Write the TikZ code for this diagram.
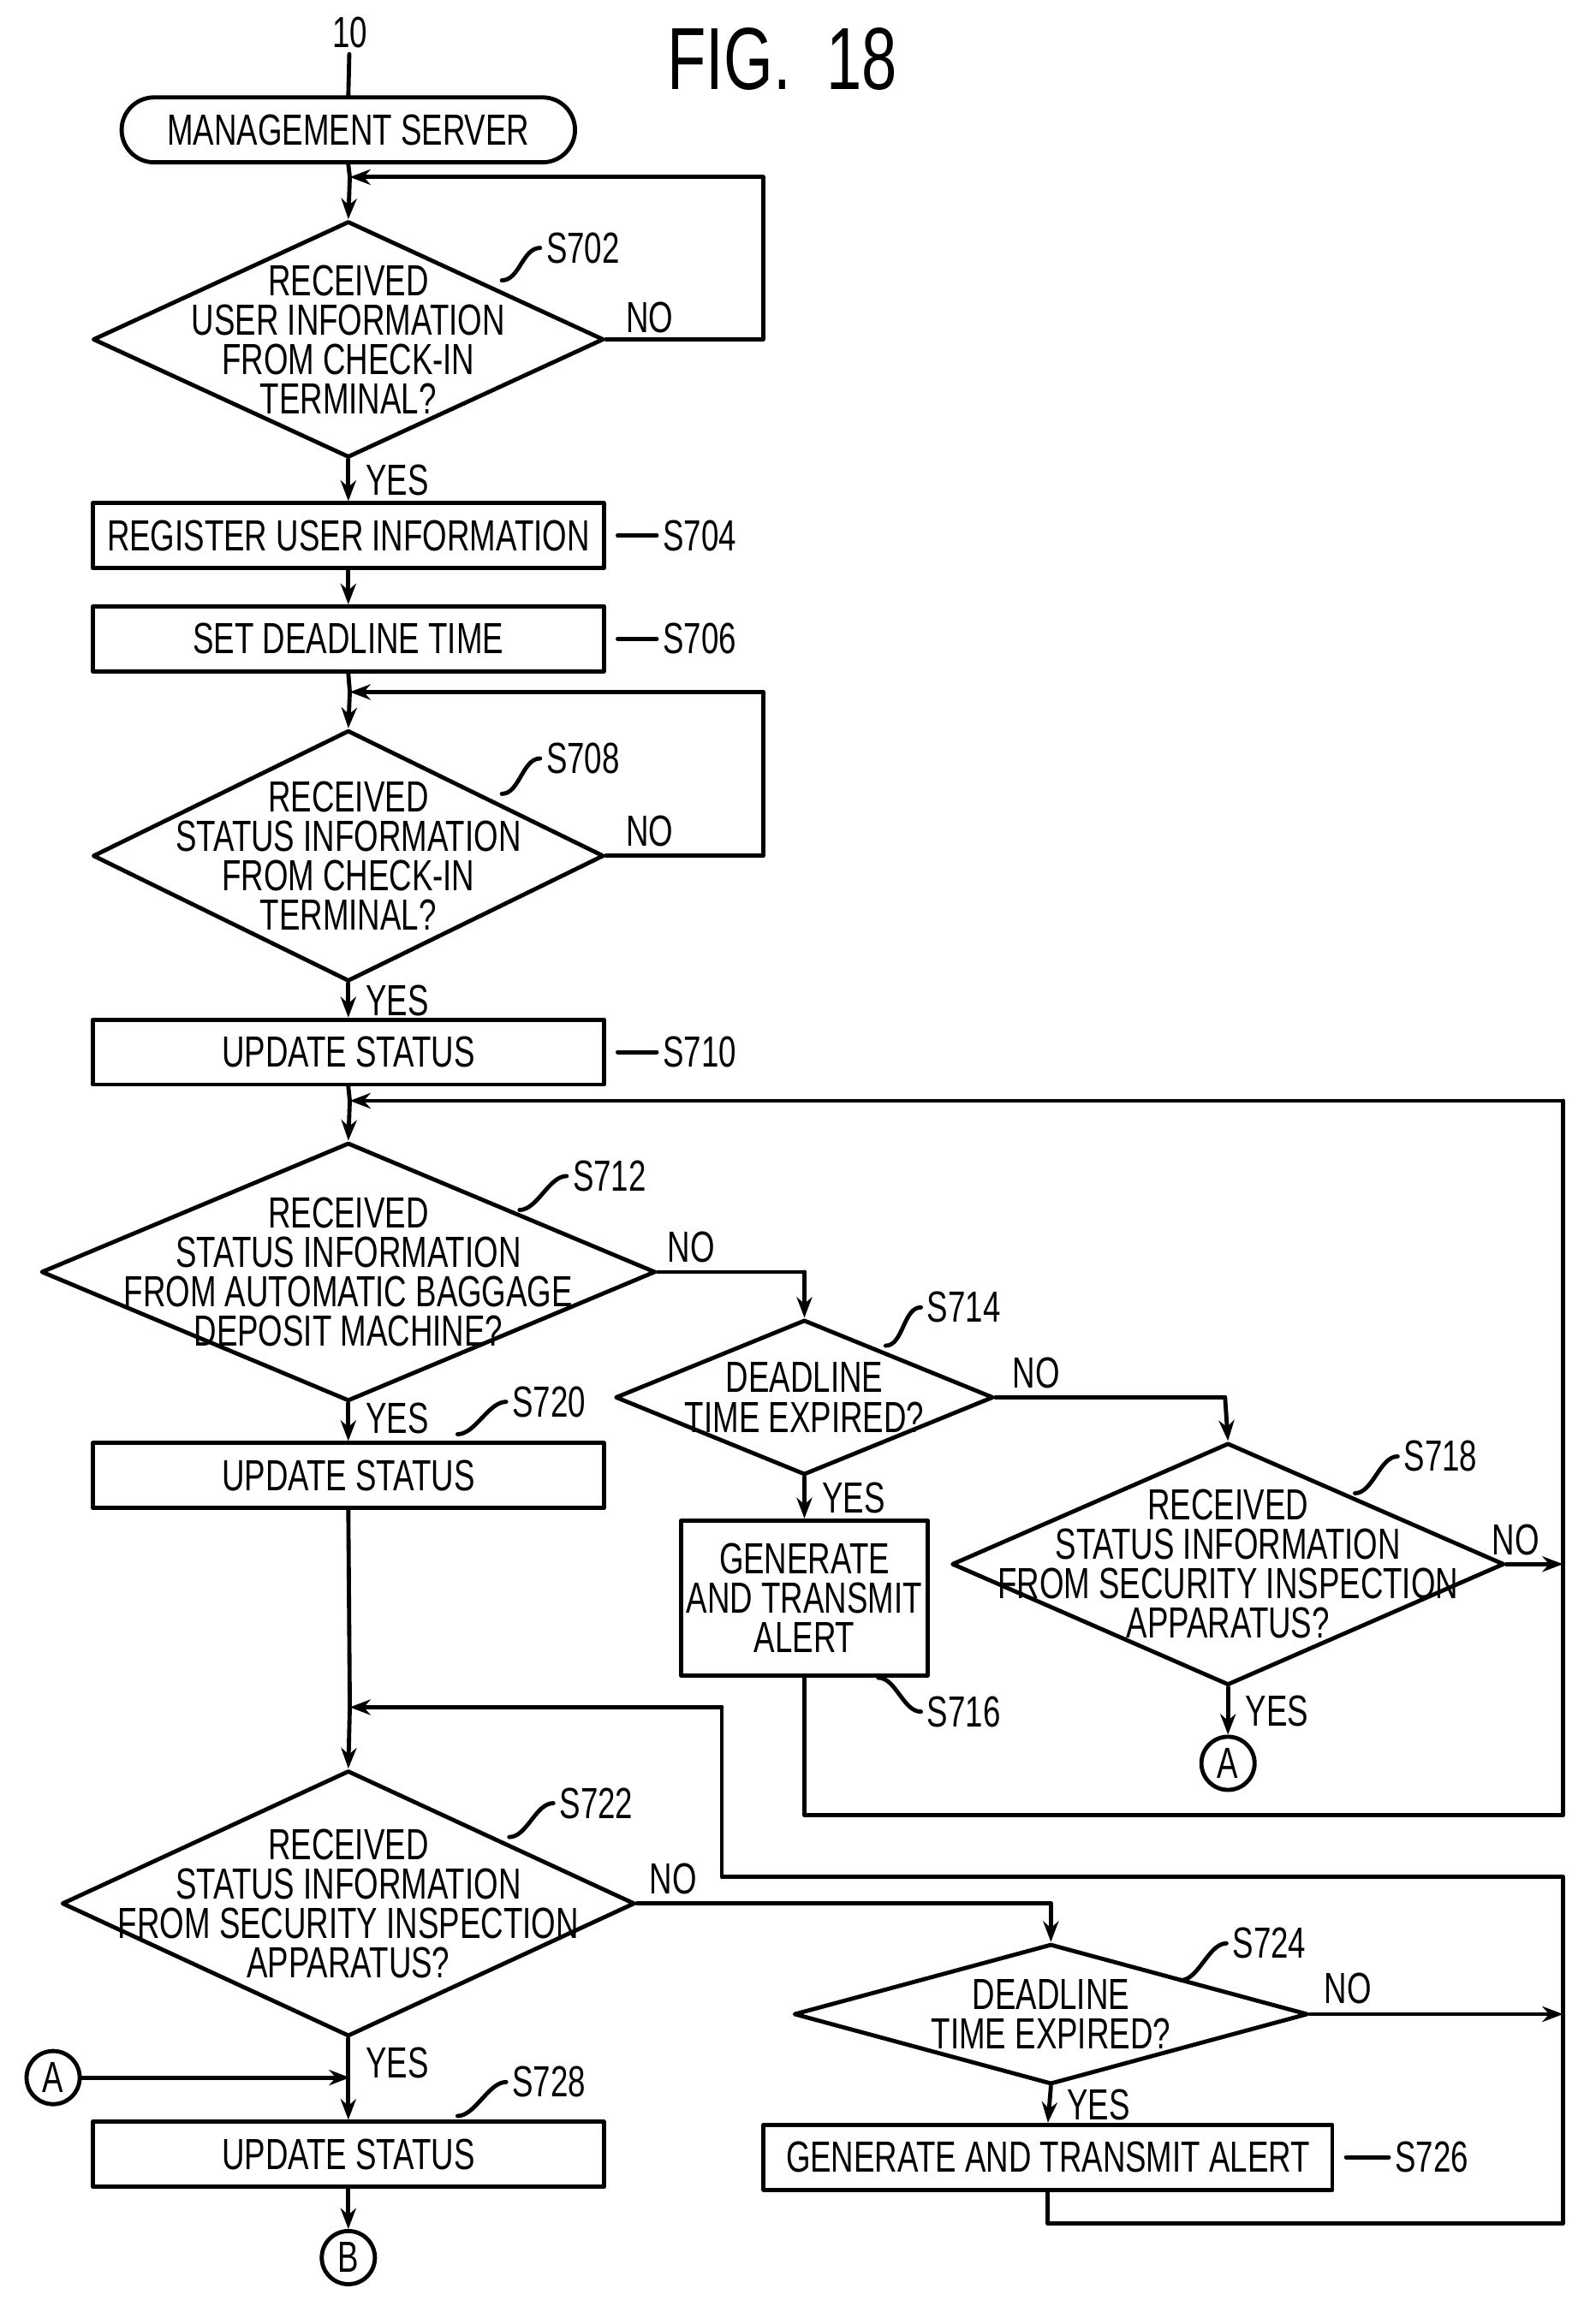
\documentclass[tikz,border=0pt]{standalone}
\usepackage{fontspec}
\setmainfont{Liberation Sans}[FakeStretch=0.72]
\usetikzlibrary{shapes.geometric,arrows.meta,positioning}
\tikzset{
  box/.style={draw,thick,minimum height=0.44cm,inner sep=0pt},
  dia/.style={draw,thick,diamond,inner sep=0pt,aspect=2},
  txt/.style={align=center,font=\fontsize{8.4}{7.6}\selectfont,inner sep=0pt},
  lbl/.style={font=\fontsize{8.4}{8}\selectfont,inner sep=1pt},
  con/.style={draw,circle,thick,minimum size=0.36cm,inner sep=0pt,font=\fontsize{8.4}{8}\selectfont},
  arr/.style={thick,-{Stealth[length=4pt,width=3pt]}},
  ln/.style={thick}
}
\begin{document}
\begin{tikzpicture}[x=0.01cm,y=-0.01cm,line cap=round,line join=round]
\useasboundingbox (0,0) rectangle (1077,1575);
\node[font=\fontsize{17}{17}\selectfont] (fig) at (530,40) {FIG.\ \ 18};
\node[lbl] (ten) at (237,22) {10};
\node[draw,thick,rounded corners=0.22cm,minimum width=3.07cm,minimum height=0.44cm,txt] (srv) at (236,88) {MANAGEMENT SERVER};
\draw[ln] (ten) -- (srv.north);

% S702
\node[dia,minimum width=3.46cm,minimum height=1.6cm] (d702) at (236,230) {};
\node[txt] at (d702) {RECEIVED\\USER INFORMATION\\FROM CHECK-IN\\TERMINAL?};
\coordinate (j702) at (237,120);
\draw[ln] (srv.south) -- (j702);
\draw[arr] (j702) -- (d702.north);
\draw[ln] (d702.east) -- (517,230) -- (517,120);
\draw[arr] (517,120) -- (j702);
\node[lbl,anchor=south west] at (420,230) {NO};
\node[lbl] (s702) at (395,168) {S702};
\draw[ln] (340,190) .. controls +(12,0) and +(-12,0) .. (s702.west);

\node[box,minimum width=3.46cm,txt] (b704) at (236,363) {REGISTER USER INFORMATION};
\draw[arr] (d702.south) -- node[lbl,right=2pt]{YES} (b704.north);
\node[lbl] (s704) at (474,363) {S704};
\draw[ln] (b704.east) ++(8,0) .. controls +(12,0) and +(-12,0) .. (s704.west);

\node[box,minimum width=3.46cm,txt] (b706) at (236,433) {SET DEADLINE TIME};
\draw[arr] (b704) -- (b706);
\node[lbl] (s706) at (474,433) {S706};
\draw[ln] (b706.east) ++(8,0) .. controls +(12,0) and +(-12,0) .. (s706.west);

% S708
\node[dia,minimum width=3.46cm,minimum height=1.7cm] (d708) at (236,580) {};
\node[txt] at (d708) {RECEIVED\\STATUS INFORMATION\\FROM CHECK-IN\\TERMINAL?};
\coordinate (j708) at (237,469);
\draw[ln] (b706.south) -- (j708);
\draw[arr] (j708) -- (d708.north);
\draw[ln] (d708.east) -- (517,580) -- (517,469);
\draw[arr] (517,469) -- (j708);
\node[lbl,anchor=south west] at (420,578) {NO};
\node[lbl] (s708) at (395,514) {S708};
\draw[ln] (340,538) .. controls +(12,0) and +(-12,0) .. (s708.west);

\node[box,minimum width=3.46cm,txt] (b710) at (236,713) {UPDATE STATUS};
\draw[arr] (d708.south) -- node[lbl,right=2pt]{YES} (b710.north);
\node[lbl] (s710) at (474,713) {S710};
\draw[ln] (b710.east) ++(8,0) .. controls +(12,0) and +(-12,0) .. (s710.west);

% S712
\node[dia,minimum width=4.16cm,minimum height=1.75cm] (d712) at (236,862) {};
\node[txt] at (d712) {RECEIVED\\STATUS INFORMATION\\FROM AUTOMATIC BAGGAGE\\DEPOSIT MACHINE?};
\coordinate (j712) at (237,746);
\draw[ln] (b710.south) -- (j712);
\draw[arr] (j712) -- (d712.north);
\node[lbl] (s712) at (413,797) {S712};
\draw[ln] (352,820) .. controls +(12,0) and +(-12,0) .. (s712.west);

% S714
\node[dia,minimum width=2.56cm,minimum height=1.05cm] (d714) at (545,947) {};
\node[txt] at (d714) {DEADLINE\\TIME EXPIRED?};
\draw[ln] (d712.east) -- (545,862);
\draw[arr] (545,862) -- (d714.north);
\node[lbl,anchor=south west] at (448,860) {NO};
\node[lbl] (s714) at (653,886) {S714};
\draw[ln] (600,912) .. controls +(12,0) and +(-12,0) .. (s714.west);

% S718
\node[dia,minimum width=3.74cm,minimum height=1.64cm] (d718) at (832,1060) {};
\node[txt] at (d718) {RECEIVED\\STATUS INFORMATION\\FROM SECURITY INSPECTION\\APPARATUS?};
\draw[ln] (d714.east) -- (830,947);
\draw[arr] (830,947) -- (d718.north);
\node[lbl,anchor=south west] at (682,945) {NO};
\node[lbl] (s718) at (976,987) {S718};
\draw[ln] (918,1012) .. controls +(12,0) and +(-12,0) .. (s718.west);
\coordinate (r718) at (1059,1060);
\draw[arr] (d718.east) -- (r718);
\node[lbl,anchor=south] at (1027,1058) {NO};
\node[con] (ca) at (832,1195) {A};
\draw[arr] (d718.south) -- node[lbl,right=2pt]{YES} (ca.north);

% S716
\node[box,minimum width=1.67cm,minimum height=1.05cm,txt] (b716) at (545,1083) {GENERATE\\AND TRANSMIT\\ALERT};
\draw[arr] (d714.south) -- node[lbl,right=2pt]{YES} (b716.north);
\node[lbl] (s716) at (653,1160) {S716};
\draw[ln] (595,1137) .. controls +(12,0) and +(-12,0) .. (s716.west);
\draw[ln] (b716.south) -- (545,1230) -- (1059,1230) -- (1059,746);
\draw[arr] (1059,746) -- (j712);

% S720
\node[box,minimum width=3.46cm,txt] (b720) at (236,1000) {UPDATE STATUS};
\draw[arr] (d712.south) -- node[lbl,right=2pt,pos=0.4]{YES} (b720.north);
\node[lbl] (s720) at (372,950) {S720};
\draw[ln] (310,972) .. controls +(12,0) and +(-12,0) .. (s720.west);

% S722
\node[dia,minimum width=3.88cm,minimum height=1.8cm] (d722) at (236,1290) {};
\node[txt] at (d722) {RECEIVED\\STATUS INFORMATION\\FROM SECURITY INSPECTION\\APPARATUS?};
\coordinate (j722) at (237,1157);
\draw[ln] (b720.south) -- (j722);
\draw[arr] (j722) -- (d722.north);
\node[lbl] (s722) at (404,1222) {S722};
\draw[ln] (345,1245) .. controls +(12,0) and +(-12,0) .. (s722.west);

% S724
\node[dia,minimum width=3.48cm,minimum height=0.95cm] (d724) at (712,1365) {};
\node[txt] at (d724) {DEADLINE\\TIME EXPIRED?};
\draw[ln] (d722.east) -- (712,1290);
\draw[arr] (712,1290) -- (d724.north);
\node[lbl,anchor=south west] at (436,1288) {NO};
\node[lbl] (s724) at (860,1317) {S724};
\draw[ln] (800,1342) .. controls +(12,0) and +(-12,0) .. (s724.west);
\draw[arr] (d724.east) -- (1059,1365);
\node[lbl,anchor=south west] at (893,1362) {NO};

% S726
\node[box,minimum width=3.85cm,txt] (b726) at (710,1462) {GENERATE AND TRANSMIT ALERT};
\draw[arr] (d724.south) -- node[lbl,right=2pt]{YES} (b726.north);
\node[lbl] (s726) at (970,1462) {S726};
\draw[ln] (b726.east) ++(8,0) .. controls +(12,0) and +(-12,0) .. (s726.west);
\draw[ln] (b726.south) -- (710,1507) -- (1059,1507) -- (1059,1272) -- (489,1272) -- (489,1157);
\draw[arr] (489,1157) -- (j722);

% S728
\node[box,minimum width=3.46cm,txt] (b728) at (236,1460) {UPDATE STATUS};
\draw[arr] (d722.south) -- node[lbl,right=2pt,pos=0.3]{YES} (b728.north);
\node[con] (ca2) at (36,1408) {A};
\draw[arr] (ca2.east) -- (237,1408);
\node[lbl] (s728) at (372,1411) {S728};
\draw[ln] (310,1434) .. controls +(12,0) and +(-12,0) .. (s728.west);
\node[con] (cb) at (236,1530) {B};
\draw[arr] (b728.south) -- (cb.north);
\end{tikzpicture}
\end{document}
